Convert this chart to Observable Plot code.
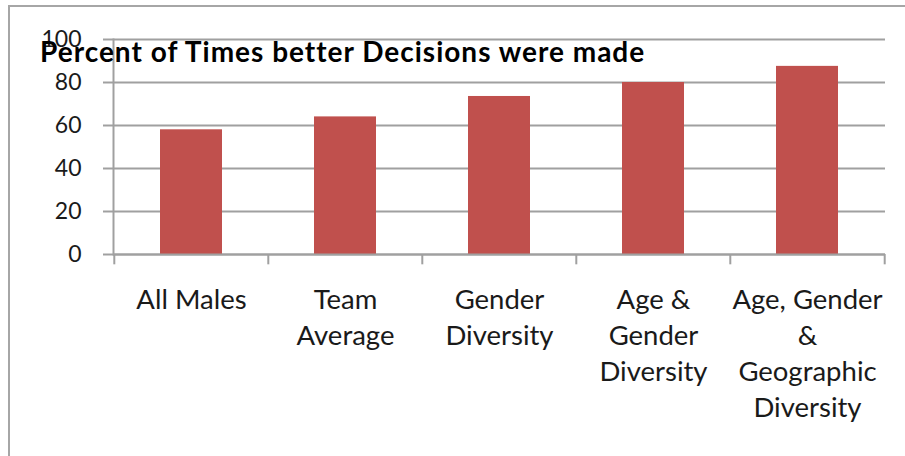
<!DOCTYPE html>
<html>
<head>
<meta charset="utf-8">
<script src="https://cdn.jsdelivr.net/npm/d3@7"></script>
<script src="https://cdn.jsdelivr.net/npm/@observablehq/plot@0.6"></script>
<style>
  html, body { margin: 0; padding: 0; background: #fff; overflow: hidden; }
  #wrap { position: relative; width: 905px; height: 456px; }
  #frame { position: absolute; left: 8px; top: 5px; width: 1200px; height: 800px;
           border-left: 2px solid #a6a6a6; border-top: 2px solid #a6a6a6; }
  #title { position: absolute; left: 40px; top: 37px; font-family: Lato, sans-serif;
           font-weight: bold; font-size: 28px; line-height: 1; letter-spacing: 1px;
           color: #000; white-space: nowrap; z-index: 2; }
  #chart { position: absolute; left: 0; top: 0; }
</style>
</head>
<body>
<div id="wrap">
  <div id="frame"></div>
  <div id="chart"></div>
  <div id="title">Percent of Times better Decisions were made</div>
</div>
<script>
const categories = ["All Males", "Team Average", "Gender Diversity", "Age & Gender Diversity", "Age, Gender & Geographic Diversity"];
const labels = ["All Males", "Team\nAverage", "Gender\nDiversity", "Age &\nGender\nDiversity", "Age, Gender\n&\nGeographic\nDiversity"];
const values = [58, 64, 73.5, 80, 87.5];
const yTicks = [0, 20, 40, 60, 80, 100];

const data = categories.map((c, i) => ({cat: c, label: labels[i], value: values[i]}));

const W = 905, H = 456, ML = 113, MR = 20, MT = 39, MB = 202;
const step = (W - ML - MR) / categories.length;
const gray = "#a0a0a0";
const font = "Lato, sans-serif";

const chart = Plot.plot({
  width: W, height: H,
  marginLeft: ML, marginRight: MR, marginTop: MT, marginBottom: MB,
  style: {fontFamily: font, background: "transparent", overflow: "visible"},
  x: {domain: categories, paddingInner: 0.6, paddingOuter: 0.3, axis: null},
  y: {domain: [0, 100], axis: null},
  marks: [
    Plot.gridY(yTicks, {stroke: gray, strokeOpacity: 1, strokeWidth: 2}),
    Plot.barY(data, {x: "cat", y: "value", fill: "#C0504D"}),
    Plot.frame({anchor: "left", stroke: gray, strokeWidth: 2}),
    Plot.ruleY([0], {stroke: gray, strokeWidth: 2}),
    Plot.ruleX(categories, {x: d => d, dx: -step / 2, y1: 0, y2: -4.8, stroke: gray, strokeWidth: 2}),
    Plot.ruleX([categories[categories.length - 1]], {x: d => d, dx: step / 2, y1: 0, y2: -4.8, stroke: gray, strokeWidth: 2}),
    Plot.axisY(yTicks, {label: null, tickSize: 10, tickPadding: 22, stroke: gray, strokeWidth: 2, fill: "#1a1a1a", fontSize: 23, tickFormat: d => String(d)}),
    Plot.text(data, {x: "cat", text: "label", frameAnchor: "bottom", lineAnchor: "top", dy: 29,
      lineHeight: 1.31, fontSize: 27.5, fill: "#1a1a1a"})
  ]
});
document.getElementById("chart").appendChild(chart);
</script>
</body>
</html>
